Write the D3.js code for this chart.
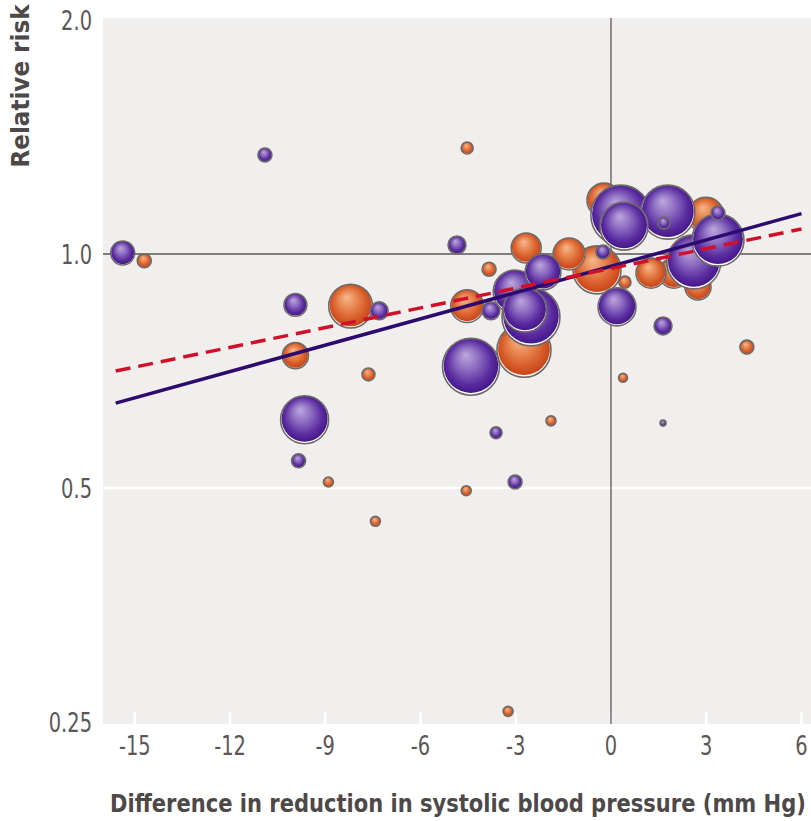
<!DOCTYPE html>
<html>
<head>
<meta charset="utf-8">
<script src="https://cdn.jsdelivr.net/npm/d3@7"></script>
<style>
  html, body { margin: 0; padding: 0; background: #ffffff; }
  svg { display: block; }
</style>
</head>
<body>
<script>
// ---------------- DATA ----------------
const xTicks = [-15, -12, -9, -6, -3, 0, 3, 6];
const xTickLabels = ["-15", "-12", "-9", "-6", "-3", "0", "3", "6"];
const yTicks = [0.25, 0.5, 1.0, 2.0];
const yTickLabels = ["0.25", "0.5", "1.0", "2.0"];

// Orange series: x = difference in SBP reduction, rr = relative risk, w = study weight
const orangeX  = [-14.7, -8.2, -9.94, -7.64, -8.9, -7.42, -4.56, -1.89, -3.24, -4.53, -3.84, -4.53, -2.67, -1.32, -2.74, 0.38, 4.28, 0.44, -0.44, -0.22, 2.99, 2.74, 1.98, 1.26];
const orangeRR = [0.98, 0.857, 0.74, 0.70, 0.509, 0.453, 0.496, 0.61, 0.258, 1.369, 0.956, 0.857, 1.018, 1.0, 0.752, 0.693, 0.759, 0.92, 0.954, 1.173, 1.122, 0.907, 0.945, 0.945];
const orangeW  = [4.9, 48, 17, 4.2, 2.5, 2.5, 2.5, 2.5, 2.5, 3.6, 4.9, 27, 22.5, 25.6, 73, 2, 4.9, 3.6, 57.6, 29, 32, 17, 22.5, 22.5];

// Purple series
const purpleX  = [-15.38, -10.9, -9.94, -7.3, -9.65, -9.84, -3.02, -3.62, -4.41, -4.85, -3.78, -3.02, -2.14, -2.52, -2.71, 0.19, 1.64, 1.64, -0.25, 0.31, 0.41, 1.79, 1.67, 3.37, 3.37, 2.61];
const purpleRR = [1.003, 1.341, 0.86, 0.845, 0.612, 0.542, 0.509, 0.589, 0.716, 1.027, 0.845, 0.894, 0.948, 0.83, 0.847, 0.855, 0.808, 0.606, 1.006, 1.122, 1.086, 1.132, 1.096, 1.129, 1.042, 0.977];
const purpleW  = [14.4, 4.9, 13, 8, 57.6, 4.9, 4.9, 3.6, 81, 8, 8, 48, 32, 84, 48, 36, 8, 0.9, 4.9, 90, 57.6, 73, 3.6, 4.9, 67.6, 73];

// Meta-regression lines
const fitX = [-15.6, 6];
const fitSolidRR = [0.643, 1.127];
const fitDashedRR = [0.707, 1.077];

// ---------------- CHART ----------------
const W = 811, H = 821;
const svg = d3.select("body").append("svg").attr("width", W).attr("height", H);

const panel = { left: 103, right: 811, top: 18, bottom: 724 };
const x = d3.scaleLinear().domain([-16, 6.3]).range([panel.left, panel.right]);
const y = d3.scaleLog().domain([0.25, 2]).range([722, 20]);
const r = d3.scaleSqrt().domain([0, 100]).range([0, 31.6]);

const font = "'Liberation Sans Narrow', 'DejaVu Sans Condensed', 'Arial Narrow', sans-serif";

const defs = svg.append("defs");
function grad(id, stops) {
  const g = defs.append("radialGradient").attr("id", id)
    .attr("cx", "50%").attr("cy", "50%").attr("r", "58%")
    .attr("fx", "40%").attr("fy", "30%");
  stops.forEach(s => g.append("stop").attr("offset", s[0]).attr("stop-color", s[1]));
}
grad("gPurple", [[0, "#bea8dc"], [0.35, "#8f6fc2"], [0.7, "#5a2ca0"], [1, "#3a0c80"]]);
grad("gOrange", [[0, "#f6b88e"], [0.35, "#e98a55"], [0.7, "#d75b28"], [1, "#bf3a12"]]);

// panel background
svg.append("rect")
  .attr("x", panel.left).attr("y", panel.top)
  .attr("width", panel.right - panel.left).attr("height", panel.bottom - panel.top)
  .attr("fill", "#f0efed");

// white gridline at 0.5
svg.append("line")
  .attr("x1", panel.left).attr("x2", panel.right)
  .attr("y1", y(0.5)).attr("y2", y(0.5))
  .attr("stroke", "#ffffff").attr("stroke-width", 2.5);

// white tick marks at bottom
svg.selectAll(".xtickmark").data(xTicks).enter().append("line")
  .attr("x1", d => x(d)).attr("x2", d => x(d))
  .attr("y1", panel.bottom).attr("y2", panel.bottom - 12)
  .attr("stroke", "#ffffff").attr("stroke-width", 2.5);

// reference lines RR=1 and x=0
svg.append("line")
  .attr("x1", panel.left).attr("x2", panel.right)
  .attr("y1", y(1)).attr("y2", y(1))
  .attr("stroke", "#5a5656").attr("stroke-width", 1.3);
svg.append("line")
  .attr("x1", x(0)).attr("x2", x(0))
  .attr("y1", panel.top).attr("y2", panel.bottom)
  .attr("stroke", "#5a5656").attr("stroke-width", 1.3);

// bubbles
function series(xs, rrs, ws, fill) {
  return xs.map((v, i) => ({ x: v, rr: rrs[i], w: ws[i], fill }))
    .sort((a, b) => b.w - a.w);
}
const bubbles = series(orangeX, orangeRR, orangeW, "url(#gOrange)")
  .concat(series(purpleX, purpleRR, purpleW, "url(#gPurple)"));

const bg = svg.append("g").selectAll("g").data(bubbles).enter().append("g")
  .attr("transform", d => `translate(${x(d.x)},${y(d.rr)})`);
bg.append("circle").attr("r", d => r(d.w)).attr("fill", "#ffffff");
bg.append("circle").attr("cy", d => -r(d.w) * 0.04).attr("r", d => r(d.w) * 0.96).attr("fill", d => d.fill);
bg.append("circle").attr("r", d => r(d.w)).attr("fill", "none")
  .attr("stroke", "#6e6a68").attr("stroke-width", 1.6);

// fit lines
const line = d3.line().x(d => x(d[0])).y(d => y(d[1]));
svg.append("path")
  .attr("d", line(fitX.map((v, i) => [v, fitSolidRR[i]])))
  .attr("fill", "none").attr("stroke", "#2c0a6e").attr("stroke-width", 3.5);
svg.append("path")
  .attr("d", line(fitX.map((v, i) => [v, fitDashedRR[i]])))
  .attr("fill", "none").attr("stroke", "#d0102a").attr("stroke-width", 3.5)
  .attr("stroke-dasharray", "15,8");

// y tick labels (condensed horizontally)
svg.selectAll(".ylab").data(yTicks).enter().append("text")
  .attr("transform", d => `translate(92,${y(d)}) scale(0.8,1)`)
  .attr("dy", "0.36em")
  .attr("text-anchor", "end")
  .attr("font-family", font).attr("font-size", 27)
  .attr("fill", "#5b5757")
  .text((d, i) => yTickLabels[i]);

// x tick labels
svg.selectAll(".xlab").data(xTicks).enter().append("text")
  .attr("transform", d => `translate(${x(d)},755) scale(0.8,1)`)
  .attr("text-anchor", "middle")
  .attr("font-family", font).attr("font-size", 27)
  .attr("fill", "#5b5757")
  .text((d, i) => xTickLabels[i]);

// axis titles, horizontally condensed to the reference widths
function fitTitle(sel, targetWidth, tx, ty, rot) {
  const natural = sel.node().getComputedTextLength();
  const sx = targetWidth / natural;
  sel.attr("transform", `translate(${tx},${ty})${rot ? " rotate(-90)" : ""} scale(${sx},1)`);
}
const yTitle = svg.append("text")
  .attr("text-anchor", "middle")
  .attr("font-family", font).attr("font-size", 25).attr("font-weight", "bold")
  .attr("fill", "#4d4949")
  .text("Relative risk");
fitTitle(yTitle, 163, 29, 86, true);

const xTitle = svg.append("text")
  .attr("text-anchor", "middle")
  .attr("font-family", font).attr("font-size", 25).attr("font-weight", "bold")
  .attr("fill", "#4d4949")
  .text("Difference in reduction in systolic blood pressure (mm Hg)");
fitTitle(xTitle, 696, 458, 812, false);
</script>
</body>
</html>
